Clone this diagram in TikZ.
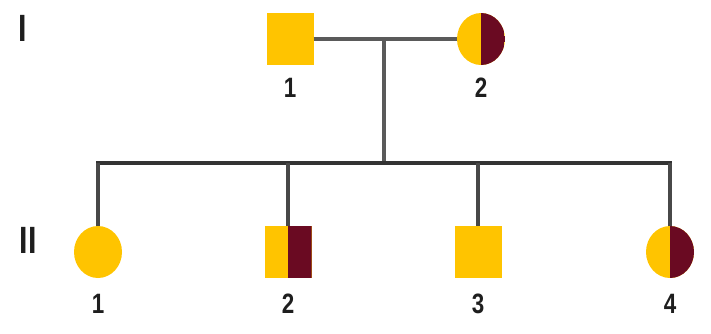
\documentclass[tikz,border=0pt]{standalone}
\usepackage{fontspec}
\newfontfamily\labfont{Liberation Sans}[FakeStretch=0.8]
\usetikzlibrary{shapes.geometric}
\definecolor{gold}{HTML}{FFC400}
\definecolor{maroon}{HTML}{6A0A22}
\definecolor{lineg}{HTML}{5A5A5A}
\definecolor{lined}{HTML}{333333}
\definecolor{txt}{HTML}{1E1E1E}
\tikzset{
  male/.style={rectangle, fill=gold, minimum width=47pt, minimum height=52pt, inner sep=0pt},
  female/.style={ellipse, fill=gold, minimum width=48pt, minimum height=52pt, inner sep=0pt},
  carrier/.style={path picture={\fill[maroon] (path picture bounding box.north) rectangle (path picture bounding box.south east);}},
  num/.style={font=\labfont\bfseries\fontsize{28}{28}\selectfont, text=txt, inner sep=0pt},
  gen/.style={font=\labfont\bfseries\fontsize{38}{38}\selectfont, text=txt, inner sep=0pt},
  mate/.style={draw=lineg, line width=4pt},
  sib/.style={draw=lined, line width=4pt},
  drop/.style={draw=lineg!80!black, line width=3.5pt}
}
\begin{document}
\begin{tikzpicture}[x=1pt,y=-1pt]
\useasboundingbox (0,0) rectangle (711,333);
% generation labels
\node[gen] (gI) at (23,28) {I};
\node[gen] (gII) at (28,240) {II};
% generation I
\node[male] (i1) at (290,39) {};
\node[female, carrier] (i2) at (481,39) {};
\node[num] (l11) at (290,88) {1};
\node[num] (l12) at (481,88) {2};
\coordinate (m) at (384,40);
\coordinate (s) at (384,163);
\coordinate (s1) at (98,163);
\coordinate (s2) at (288,163);
\coordinate (s3) at (478,163);
\coordinate (s4) at (670,163);
% generation II
\node[female] (ii1) at (98,252) {};
\node[male, carrier] (ii2) at (288,252) {};
\node[male] (ii3) at (478,252) {};
\node[female, carrier] (ii4) at (670,252) {};
\node[num] (l21) at (98,304) {1};
\node[num] (l22) at (288,304) {2};
\node[num] (l23) at (478,304) {3};
\node[num] (l24) at (670,304) {4};
% connectors
\draw[mate] (i1.east) -- (i2.west);
\draw[mate] (m) -- (s);
\draw[sib, line cap=rect] (s1) -- (s4);
\draw[drop] (s1) -- (ii1.north);
\draw[drop] (s2) -- (ii2.north);
\draw[drop] (s3) -- (ii3.north);
\draw[drop] (s4) -- (ii4.north);
\end{tikzpicture}
\end{document}
